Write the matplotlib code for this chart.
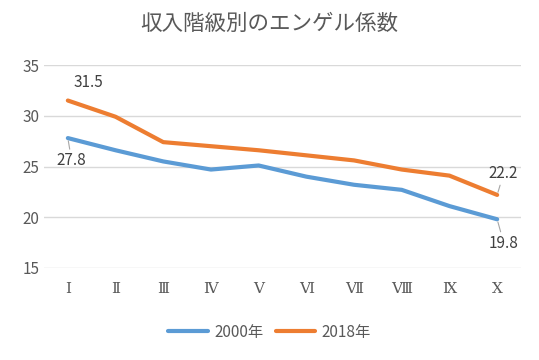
import matplotlib
matplotlib.use("Agg")
import matplotlib.pyplot as plt

plt.rcParams['font.family'] = ['Noto Sans CJK JP', 'DejaVu Sans']

# data
classes = ['Ⅰ', 'Ⅱ', 'Ⅲ', 'Ⅳ', 'Ⅴ', 'Ⅵ', 'Ⅶ', 'Ⅷ', 'Ⅸ', 'Ⅹ']
y2000 = [27.8, 26.6, 25.5, 24.7, 25.1, 24.0, 23.2, 22.7, 21.1, 19.8]
y2018 = [31.5, 29.9, 27.4, 27.0, 26.6, 26.1, 25.6, 24.7, 24.1, 22.2]
yticks = [15, 20, 25, 30, 35]

blue = '#5b9bd5'
orange = '#ed7d31'
text_gray = '#595959'

fig = plt.figure(figsize=(5.39, 3.6), dpi=100)
ax = fig.add_axes([44 / 539, 1 - 268 / 360, (521 - 44) / 539, (268 - 65) / 360])

x = list(range(len(classes)))
ax.plot(x, y2000, color=blue, lw=3, label='2000年', solid_capstyle='round')
ax.plot(x, y2018, color=orange, lw=3, label='2018年', solid_capstyle='round')

ax.set_xlim(-0.5, len(classes) - 0.5)
ax.set_ylim(15, 35)
ax.set_yticks(yticks)
ax.set_yticklabels([str(t) for t in yticks])
ax.set_xticks(x)
ax.set_xticklabels(classes, fontsize=13, color=text_gray, family=['DejaVu Serif', 'Noto Sans CJK JP'])
ax.tick_params(axis='both', length=0, colors=text_gray, labelsize=11)
ax.tick_params(axis='x', pad=10)
ax.grid(axis='y', color='#d9d9d9', lw=1)
ax.set_axisbelow(True)
for s in ax.spines.values():
    s.set_visible(False)

# data labels
lbl = dict(fontsize=11, color='#404040')
line = dict(arrowstyle='-', color='#a6a6a6', lw=0.8, shrinkA=0, shrinkB=2)
ax.annotate(f'{y2018[0]}', (x[0], y2018[0]), xytext=(4, 7), textcoords='offset points', ha='left', va='bottom', **lbl)
ax.annotate(f'{y2000[0]}', (x[0], y2000[0]), xytext=(-8, -10), textcoords='offset points', ha='left', va='top',
            arrowprops=line, **lbl)
ax.annotate(f'{y2018[-1]}', (x[-1], y2018[-1]), xytext=(-6, 9), textcoords='offset points', ha='left', va='bottom',
            arrowprops=line, **lbl)
ax.annotate(f'{y2000[-1]}', (x[-1], y2000[-1]), xytext=(-6, -11), textcoords='offset points', ha='left', va='top',
            arrowprops=line, **lbl)

fig.text(0.5, 1 - 24 / 360, '収入階級別のエンゲル係数', ha='center', va='center', fontsize=15.5, color=text_gray)

fig.legend(loc='center', bbox_to_anchor=(0.5, 1 - 332 / 360), ncol=2, frameon=False,
           fontsize=11, labelcolor=text_gray, handlelength=2.6, columnspacing=0.8, handletextpad=0.4)

fig.savefig('out.png', dpi=100)
